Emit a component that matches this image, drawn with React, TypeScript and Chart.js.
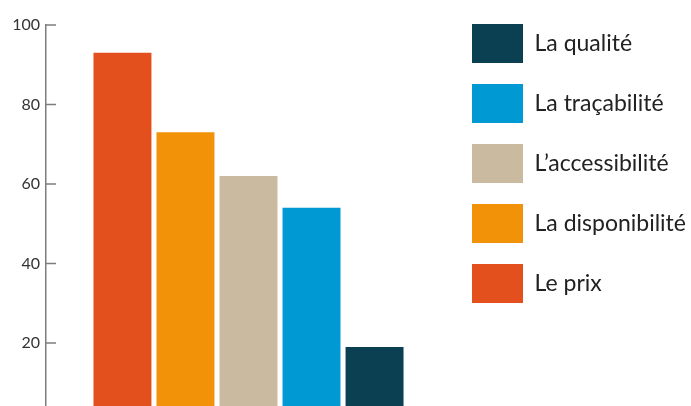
import { useEffect, useRef } from "react";
import { Chart, registerables } from "chart.js";

Chart.register(...registerables);

const categories = [""];
const seriesLabels = ["Le prix", "La disponibilité", "L’accessibilité", "La traçabilité", "La qualité"];
const seriesValues = [93, 73, 62, 54, 19];
const seriesColors = ["#E4501D", "#F29208", "#CABA9F", "#0099D3", "#0B3F52"];
const yTicks = [0, 20, 40, 60, 80, 100];

const innerTicks = {
  id: "innerTicks",
  afterDraw(chart: any) {
    const y = chart.scales.y;
    const ctx = chart.ctx;
    ctx.save();
    ctx.strokeStyle = "#7d7d7d";
    ctx.lineWidth = 1.5;
    y.ticks.forEach((t: any) => {
      const py = y.getPixelForValue(t.value);
      ctx.beginPath();
      ctx.moveTo(y.right, py);
      ctx.lineTo(y.right + 10, py);
      ctx.stroke();
    });
    ctx.restore();
  },
};

export default function App() {
  const ref = useRef<HTMLCanvasElement>(null);
  useEffect(() => {
    if (!ref.current) return;
    const chart = new Chart(ref.current, {
      type: "bar",
      data: {
        labels: categories,
        datasets: seriesLabels.map((label, i) => ({
          label,
          data: [seriesValues[i]],
          backgroundColor: seriesColors[i],
          borderColor: seriesColors[i],
          borderWidth: 0,
          categoryPercentage: 0.778,
          barPercentage: 0.92,
        })),
      },
      options: {
        animation: false,
        responsive: false,
        devicePixelRatio: 1,
        layout: { padding: { top: 3, bottom: 17.5, left: 0, right: 0 } },
        plugins: {
          tooltip: { enabled: false },
          legend: {
            position: "right",
            align: "start",
            reverse: true,
            maxWidth: 240,
            labels: {
              boxWidth: 51,
              boxHeight: 39,
              padding: 21,
              color: "#222",
              font: { family: "Lato", size: 23 },
            },
          },
        },
        scales: {
          x: { display: false },
          y: {
            min: 0,
            max: 100,
            grid: { display: false, drawTicks: false },
            border: { display: true, color: "#7d7d7d", width: 1.5 },
            afterBuildTicks: (s: any) => {
              s.ticks = yTicks.map((v) => ({ value: v }));
            },
            afterFit: (s: any) => {
              s.width = 46;
              s.paddingTop = 25;
            },
            ticks: {
              padding: 6,
              color: "#333",
              font: { family: "Lato", size: 16 },
            },
          },
        },
      },
      plugins: [innerTicks],
    });
    return () => chart.destroy();
  }, []);
  return (
    <div style={{ position: "fixed", left: 0, top: 0, width: 691, height: 406, overflow: "hidden", background: "#fff" }}>
      <canvas ref={ref} width={691} height={440} style={{ display: "block" }} />
    </div>
  );
}
